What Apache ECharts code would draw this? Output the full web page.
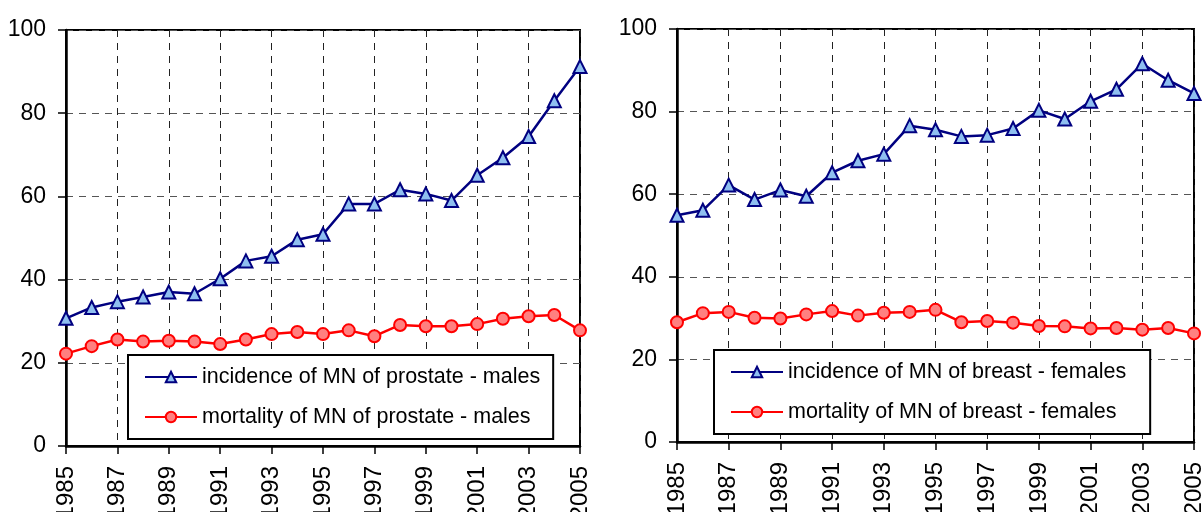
<!DOCTYPE html>
<html>
<head>
<meta charset="utf-8">
<script src="https://cdn.jsdelivr.net/npm/echarts@6/dist/echarts.min.js"></script>
<style>
  html, body { margin: 0; padding: 0; background: #fff; }
  #chart { width: 1202px; height: 512px; }
</style>
</head>
<body>
<div id="chart"></div>
<script>
var years = ['1985', '1986', '1987', '1988', '1989', '1990', '1991', '1992', '1993', '1994', '1995',
  '1996', '1997', '1998', '1999', '2000', '2001', '2002', '2003', '2004', '2005']

var prostateIncidence = [30.7, 33.3, 34.7, 35.8, 37.0, 36.6, 40.2, 44.5, 45.6, 49.6, 50.9,
  58.2, 58.2, 61.6, 60.6, 59.0, 65.1, 69.3, 74.4, 83.0, 91.2]
var prostateMortality = [22.2, 24.0, 25.6, 25.1, 25.3, 25.1, 24.5, 25.6, 26.9, 27.4, 26.9,
  27.8, 26.4, 29.1, 28.8, 28.8, 29.3, 30.6, 31.2, 31.5, 27.8]

var breastIncidence = [54.9, 56.1, 62.2, 58.7, 61.0, 59.5, 65.2, 68.1, 69.7, 76.6, 75.6,
  74.0, 74.3, 75.9, 80.3, 78.2, 82.5, 85.4, 91.6, 87.6, 84.4]
var breastMortality = [29.0, 31.2, 31.5, 30.1, 29.9, 30.9, 31.7, 30.6, 31.3, 31.5, 32.0,
  29.0, 29.3, 28.9, 28.1, 28.0, 27.5, 27.6, 27.2, 27.6, 26.3]

var names = [
  'incidence of MN of prostate - males',
  'mortality of MN of prostate - males',
  'incidence of MN of breast - females',
  'mortality of MN of breast - females'
]

var FONT = '"Liberation Sans", Arial, sans-serif'

function xAxis(gridIndex) {
  return {
    type: 'category',
    gridIndex: gridIndex,
    data: years,
    boundaryGap: false,
    axisLine: { lineStyle: { color: '#000', width: 2.5 } },
    axisTick: { interval: 1, length: 8, lineStyle: { color: '#000', width: 1.5 } },
    axisLabel: { interval: 1, rotate: 90, color: '#000', fontSize: 24, fontFamily: FONT, margin: 20 },
    splitLine: { show: true, interval: 1, lineStyle: { color: '#222', type: [7, 6], width: 1 } }
  }
}

function yAxis(gridIndex) {
  return {
    type: 'value',
    gridIndex: gridIndex,
    min: 0,
    max: 100,
    interval: 20,
    axisLine: { show: true, lineStyle: { color: '#000', width: 2.5 } },
    axisTick: { show: true, length: 8, lineStyle: { color: '#000', width: 1.5 } },
    axisLabel: { color: '#000', fontSize: 23, fontFamily: FONT, margin: 20 },
    splitLine: { show: true, lineStyle: { color: '#555', type: [7, 6], width: 1 } }
  }
}

function series(name, data, idx, incidence) {
  return {
    name: name,
    type: 'line',
    xAxisIndex: idx,
    yAxisIndex: idx,
    data: data,
    symbol: incidence ? 'triangle' : 'circle',
    symbolSize: incidence ? 13 : 12,
    lineStyle: { color: incidence ? '#000080' : '#ff0000', width: 2.5 },
    itemStyle: {
      color: incidence ? '#8fbff0' : '#ff8080',
      borderColor: incidence ? '#000080' : '#ff0000',
      borderWidth: 2
    },
    emphasis: { disabled: true },
    animation: false
  }
}

function legend(data, left, top, padRight) {
  return {
    data: data,
    orient: 'vertical',
    left: left,
    top: top,
    backgroundColor: '#fff',
    borderColor: '#000',
    borderWidth: 2,
    borderRadius: 0,
    padding: [11, padRight, 11, 16],
    itemWidth: 52,
    itemHeight: 13,
    itemGap: 18,
    textStyle: { color: '#000', fontSize: 21.5, fontFamily: FONT },
    selectedMode: false
  }
}

var chart = echarts.init(document.getElementById('chart'))
chart.setOption({
  animation: false,
  grid: [
    { left: 66, right: 622, top: 30, bottom: 66, outerBoundsMode: 'none', show: true, borderColor: '#000', borderWidth: 2 },
    { left: 677, right: 8, top: 29, bottom: 70, outerBoundsMode: 'none', show: true, borderColor: '#000', borderWidth: 2 }
  ],
  xAxis: [xAxis(0), xAxis(1)],
  yAxis: [yAxis(0), yAxis(1)],
  legend: [
    legend([names[0], names[1]], 128, 355, 13),
    legend([names[2], names[3]], 714, 350, 24)
  ],
  series: [
    series(names[0], prostateIncidence, 0, true),
    series(names[1], prostateMortality, 0, false),
    series(names[2], breastIncidence, 1, true),
    series(names[3], breastMortality, 1, false)
  ]
})
</script>
</body>
</html>
